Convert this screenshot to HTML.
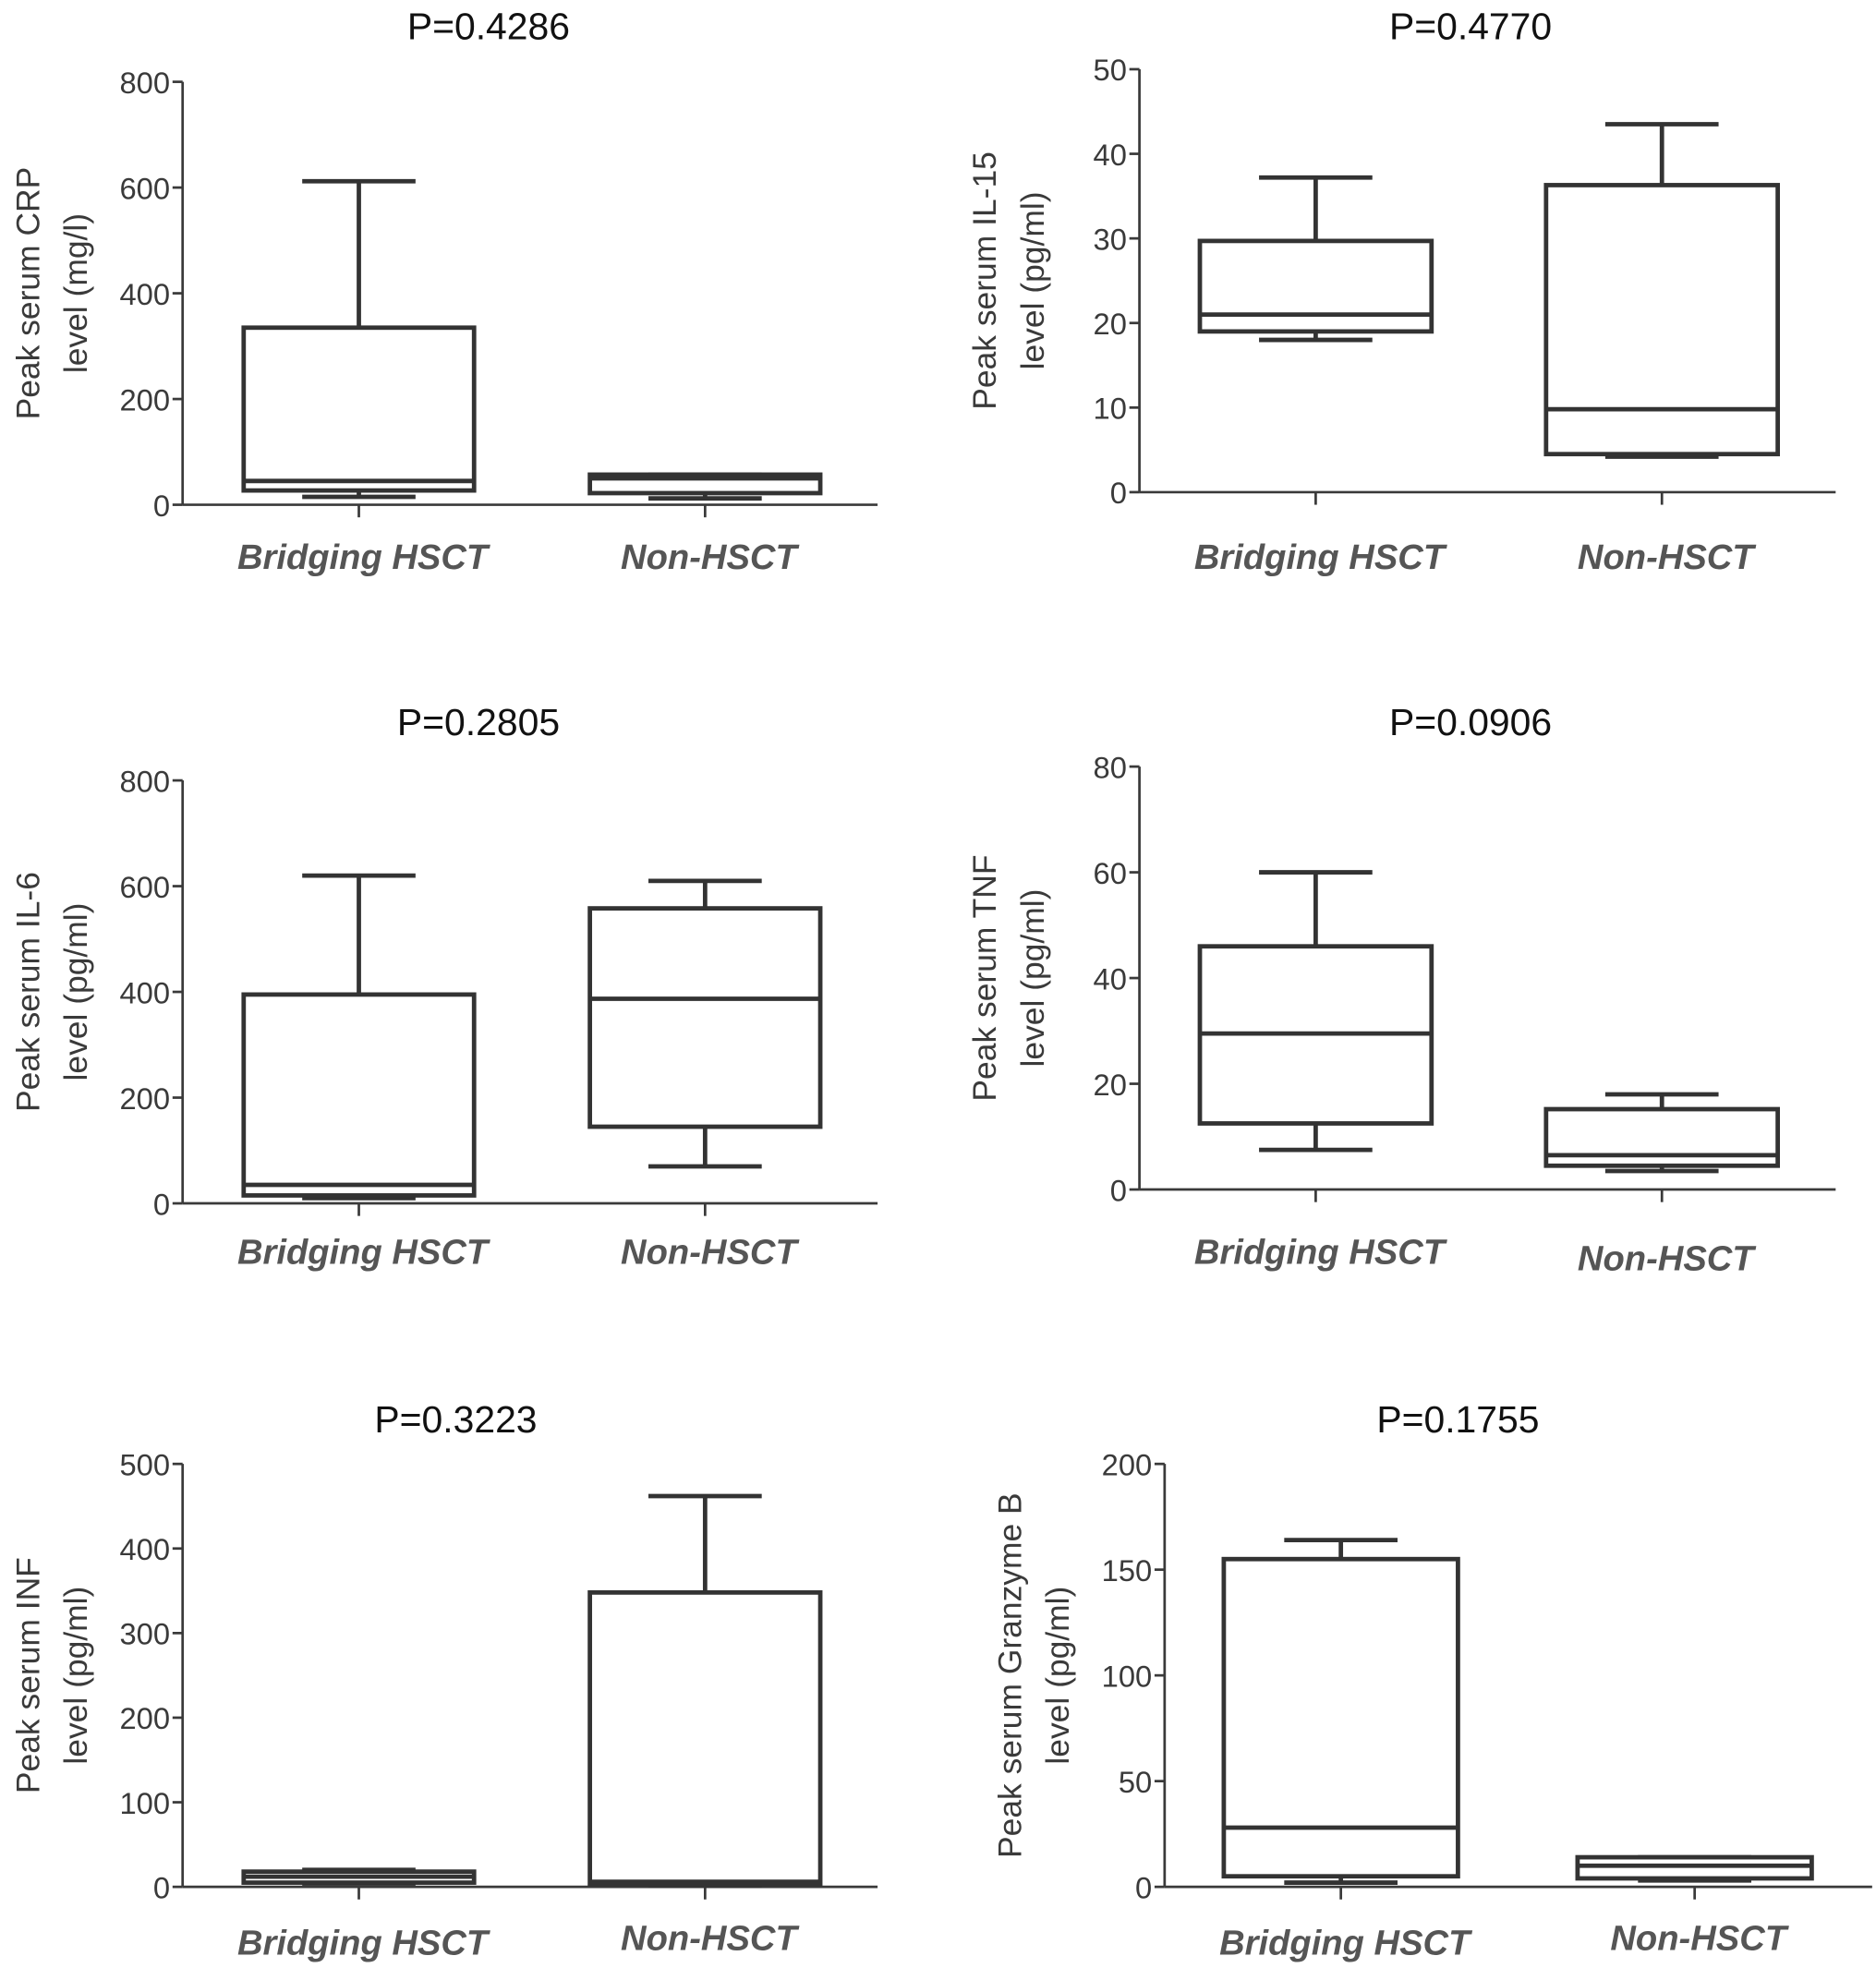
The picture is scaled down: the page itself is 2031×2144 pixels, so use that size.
<!DOCTYPE html>
<html><head><meta charset="utf-8">
<style>
html,body{margin:0;padding:0;background:#fff;}
svg{display:block;}
</style></head>
<body>
<svg id="fig" width="2031" height="2144" viewBox="0 0 1490 1573" xmlns="http://www.w3.org/2000/svg"></svg>
<script>
// Panel data (top-level arrays)
const categories = ["Bridging HSCT", "Non-HSCT"];
const titles = ["P=0.4286", "P=0.4770", "P=0.2805", "P=0.0906", "P=0.3223", "P=0.1755"];
const yLabels1 = ["Peak serum CRP", "Peak serum IL-15", "Peak serum IL-6", "Peak serum TNF", "Peak serum INF", "Peak serum Granzyme B"];
const yLabels2 = ["level (mg/l)", "level (pg/ml)", "level (pg/ml)", "level (pg/ml)", "level (pg/ml)", "level (pg/ml)"];
const yMax = [800, 50, 800, 80, 500, 200];
const yStep = [200, 10, 200, 20, 100, 50];
// [min, q1, median, q3, max] for Bridging HSCT
const bridging = [
  [15, 27, 45, 335, 612],
  [18, 19, 21, 29.7, 37.2],
  [10, 15, 35, 395, 620],
  [7.5, 12.5, 29.5, 46, 60],
  [4, 5, 12, 18, 20],
  [2, 5, 28, 155, 164]
];
// [min, q1, median, q3, max] for Non-HSCT
const nonHSCT = [
  [12, 22, 50, 57, 57],
  [4.2, 4.5, 9.8, 36.3, 43.5],
  [70, 145, 387, 558, 610],
  [3.5, 4.5, 6.5, 15.2, 18],
  [2, 3, 6, 348, 462],
  [3, 4, 10, 14, 14]
];

// layout (not data)
const layout = [
  {ax:145, top:65, bot:401, xend:697, c:[285,560], bw:183, tx:388, ty:31, ly:[442,442]},
  {ax:905, top:55, bot:391, xend:1458, c:[1045,1320], bw:184, tx:1168, ty:31, ly:[442,442]},
  {ax:145, top:620, bot:956, xend:697, c:[285,560], bw:183, tx:380, ty:584, ly:[994,994]},
  {ax:905, top:609, bot:945, xend:1458, c:[1045,1320], bw:184, tx:1168, ty:584, ly:[994,999]},
  {ax:145, top:1163, bot:1499, xend:697, c:[285,560], bw:183, tx:362, ty:1138, ly:[1543,1539]},
  {ax:925, top:1163, bot:1499, xend:1487, c:[1065,1346], bw:186, tx:1158, ty:1138, ly:[1543,1539]}
];
const NS = "http://www.w3.org/2000/svg";
const svg = document.getElementById('fig');
function mk(tag, attrs, parent){
  const e = document.createElementNS(NS, tag);
  for (const k in attrs) e.setAttribute(k, attrs[k]);
  (parent||svg).appendChild(e);
  return e;
}
const FONT = '"Liberation Sans", Arial, sans-serif';
const GRAY = '#3a3a3a';

for (let p = 0; p < 6; p++) {
  const L = layout[p];
  const g = mk('g', {});
  
  
  const y = v => L.bot - (v / yMax[p]) * (L.bot - L.top);

  const t = mk('text', {x:L.tx, y:L.ty, 'text-anchor':'middle', 'font-family':FONT, 'font-size':30, fill:'#111'}, g);
  t.textContent = titles[p];
  
  

  const ya = mk('line', {x1:L.ax, y1:L.top, x2:L.ax, y2:L.bot, stroke:GRAY, 'stroke-width':2}, g);
  
  
  for (let v = 0; v <= yMax[p] + 1e-9; v += yStep[p]) {
    mk('line', {x1:L.ax-8, y1:y(v), x2:L.ax, y2:y(v), stroke:GRAY, 'stroke-width':2}, g);
    const tl = mk('text', {x:L.ax-10, y:y(v)+9, 'text-anchor':'end', 'font-family':FONT, 'font-size':24, fill:GRAY}, g);
    tl.textContent = String(v);
    
    
  }
  const xa = mk('line', {x1:L.ax, y1:L.bot, x2:L.xend, y2:L.bot, stroke:GRAY, 'stroke-width':2}, g);
  
  

  const yt = mk('text', {transform:'translate(' + (L.ax-114) + ',' + ((L.top+L.bot)/2) + ') rotate(-90)', 'text-anchor':'middle', 'font-family':FONT, 'font-size':26, fill:GRAY}, g);
  
  
  const s1 = mk('tspan', {x:0, dy:0}, yt); s1.textContent = yLabels1[p];
  const s2 = mk('tspan', {x:0, dy:38}, yt); s2.textContent = yLabels2[p];

  const series = [bridging[p], nonHSCT[p]];
  for (let i = 0; i < 2; i++) {
    const cx = L.c[i];
    mk('line', {x1:cx, y1:L.bot, x2:cx, y2:L.bot+10, stroke:GRAY, 'stroke-width':2}, g);
    const cl = mk('text', {x:cx+3, y:L.ly[i]+10, 'text-anchor':'middle', 'font-family':FONT, 'font-size':28, 'font-style':'italic', 'font-weight':'bold', fill:'#555'}, g);
    cl.textContent = categories[i];
    
    

    const d = series[i];
    const bg = mk('g', {stroke:'#333', 'stroke-width':3.5, fill:'none'}, g);
    
    
    const hw = L.bw/2, cw = 45;
    mk('line', {x1:cx, y1:y(d[4]), x2:cx, y2:y(d[3])}, bg);
    mk('line', {x1:cx-cw, y1:y(d[4]), x2:cx+cw, y2:y(d[4])}, bg);
    mk('line', {x1:cx, y1:y(d[1]), x2:cx, y2:y(d[0])}, bg);
    mk('line', {x1:cx-cw, y1:y(d[0]), x2:cx+cw, y2:y(d[0])}, bg);
    mk('rect', {x:cx-hw, y:y(d[3]), width:L.bw, height:Math.max(0, y(d[1]) - y(d[3])), fill:'#fff'}, bg);
    mk('line', {x1:cx-hw, y1:y(d[2]), x2:cx+hw, y2:y(d[2])}, bg);
  }
}
</script>
</body></html>
